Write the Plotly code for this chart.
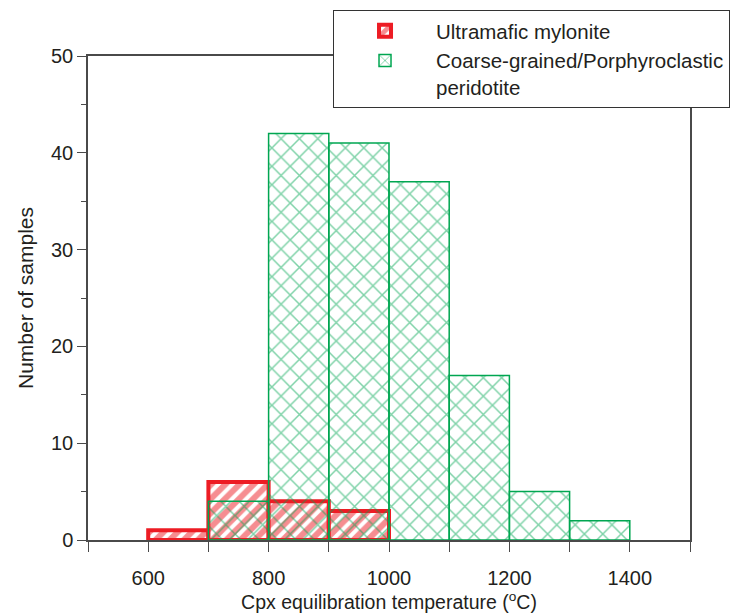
import plotly.graph_objects as go

# Data
mylonite_bins = [650, 750, 850, 950]
mylonite_counts = [1, 6, 4, 3]
coarse_bins = [750, 850, 950, 1050, 1150, 1250, 1350]
coarse_counts = [4, 42, 41, 37, 17, 5, 2]
x_tickvals = [500, 600, 700, 800, 900, 1000, 1100, 1200, 1300, 1400, 1500]
x_ticktext = ["", "600", "", "800", "", "1000", "", "1200", "", "1400", ""]
y_tickvals = [0, 10, 20, 30, 40, 50]

RED = "#ED1C24"
GREEN = "#00A651"
INK = "#231F20"
AXC = "#4a4a4a"
FONT = "Liberation Sans, Arial, sans-serif"

fig = go.Figure()
fig.add_trace(go.Bar(
    x=mylonite_bins, y=mylonite_counts, width=100,
    name="Ultramafic mylonite",
    marker=dict(color="white",
                line=dict(color=RED, width=4),
                pattern=dict(shape="/", fgcolor=RED, bgcolor="white",
                             size=10, solidity=0.6, fillmode="overlay")),
))
fig.add_trace(go.Bar(
    x=coarse_bins, y=coarse_counts, width=100,
    name="Coarse-grained/Porphyroclastic<br>peridotite",
    marker=dict(color="rgba(0,0,0,0)",
                line=dict(color=GREEN, width=1.5),
                pattern=dict(shape="x", fgcolor=GREEN, bgcolor="rgba(0,0,0,0)",
                             size=13, solidity=0.22, fillmode="overlay")),
))

fig.update_layout(
    width=738, height=613,
    margin=dict(l=88, r=48, t=56, b=73, autoexpand=False),
    paper_bgcolor="white", plot_bgcolor="white",
    barmode="overlay",
    font=dict(family=FONT, size=20, color=INK),
    showlegend=True,
    legend=dict(x=0.407, y=1.095, xanchor="left", yanchor="top",
                bgcolor="white", bordercolor="#333333", borderwidth=1,
                font=dict(size=20.5, color=INK), valign="top",
                itemwidth=92, tracegroupgap=0, traceorder="normal"),
    xaxis=dict(range=[500, 1500], tickvals=x_tickvals, ticktext=x_ticktext,
               ticks="outside", ticklen=10, tickcolor=AXC, tickwidth=1.3,
               showline=True, linecolor=AXC, linewidth=1.5, mirror=True,
               showgrid=False, zeroline=False, ticklabelstandoff=9,
               tickfont=dict(size=20), automargin=False,
               title=dict(text="Cpx equilibration temperature (<sup>o</sup>C)",
                          font=dict(size=19.5), standoff=14)),
    yaxis=dict(range=[0, 50], tickvals=y_tickvals,
               ticks="outside", ticklen=9, tickcolor=AXC, tickwidth=1.3,
               minor=dict(dtick=5, ticks="outside", ticklen=5, tickcolor=AXC),
               showline=True, linecolor=AXC, linewidth=1.5, mirror=True,
               showgrid=False, zeroline=False, tickfont=dict(size=20),
               automargin=False,
               title=dict(text="Number of samples", font=dict(size=21), standoff=12)),
)

fig.write_html("out.html")
